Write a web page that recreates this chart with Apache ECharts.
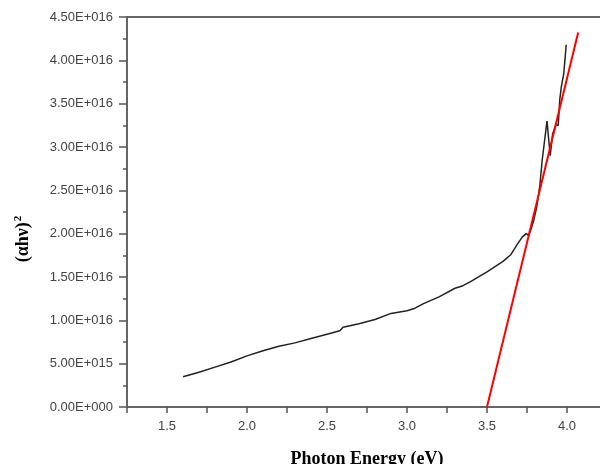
<!DOCTYPE html>
<html>
<head>
<meta charset="utf-8">
<script src="https://cdn.jsdelivr.net/npm/echarts@6/dist/echarts.min.js"></script>
<style>
  html, body { margin: 0; padding: 0; background: #fff; overflow: hidden; }
  #main { width: 600px; height: 464px; }
</style>
</head>
<body>
<div id="main"></div>
<script>
// photon energy (eV) and (αhν)^2
var energy = [1.60, 1.70, 1.80, 1.90, 2.00, 2.10, 2.20, 2.30, 2.40, 2.50, 2.58, 2.60, 2.70, 2.80, 2.90, 3.00, 3.05, 3.10, 3.20, 3.30, 3.35, 3.40, 3.50, 3.55, 3.60, 3.65, 3.69, 3.72, 3.745, 3.76, 3.775, 3.79, 3.81, 3.83, 3.845, 3.855, 3.875, 3.895, 3.91, 3.93, 3.945, 3.955, 3.965, 3.98, 3.995];
var alphaHv2 = [3.5e15, 4.0e15, 4.6e15, 5.2e15, 5.9e15, 6.5e15, 7.0e15, 7.4e15, 7.9e15, 8.4e15, 8.8e15, 9.2e15, 9.6e15, 1.01e16, 1.08e16, 1.11e16, 1.14e16, 1.19e16, 1.27e16, 1.37e16, 1.40e16, 1.45e16, 1.56e16, 1.62e16, 1.68e16, 1.76e16, 1.88e16, 1.96e16, 2.00e16, 1.98e16, 2.05e16, 2.14e16, 2.30e16, 2.55e16, 2.85e16, 3.00e16, 3.30e16, 2.90e16, 3.15e16, 3.25e16, 3.25e16, 3.55e16, 3.70e16, 3.85e16, 4.18e16];
// linear fit (Tauc extrapolation)
var fitX = [3.50, 4.07];
var fitY = [0, 4.32e16];

function sci(v) {
  if (v === 0) return '0.00E+000';
  var e = Math.floor(Math.log10(Math.abs(v)) + 1e-9);
  var m = v / Math.pow(10, e);
  var es = String(Math.abs(e));
  while (es.length < 3) es = '0' + es;
  return m.toFixed(2) + 'E' + (e < 0 ? '-' : '+') + es;
}

var myChart = echarts.init(document.getElementById('main'));
myChart.setOption({
  animation: false,
  // the frame runs off the right edge of the picture
  grid: { left: 127, right: -7, top: 17, bottom: 57, outerBoundsMode: 'none' },
  xAxis: [
    {
      type: 'value',
      min: 1.25,
      max: 4.25,
      interval: 0.25,
      name: 'Photon Energy (eV)',
      nameLocation: 'middle',
      nameGap: 43,
      nameTextStyle: { fontFamily: 'Liberation Serif', fontWeight: 'bold', fontSize: 18, color: '#000' },
      axisLine: { lineStyle: { color: '#666', width: 2 } },
      axisTick: { length: 6, lineStyle: { color: '#555', width: 1.5 } },
      axisLabel: {
        margin: 13,
        fontFamily: 'Liberation Sans',
        fontSize: 13,
        color: '#444',
        formatter: function (v) {
          return Math.abs(v * 2 - Math.round(v * 2)) < 1e-6 ? v.toFixed(1) : '';
        }
      },
      splitLine: { show: false }
    },
    {
      type: 'value',
      position: 'top',
      min: 1.25,
      max: 4.25,
      axisLine: { lineStyle: { color: '#666', width: 2 } },
      axisTick: { show: false },
      axisLabel: { show: false },
      splitLine: { show: false }
    }
  ],
  yAxis: {
    type: 'value',
    min: 0,
    max: 4.5e16,
    interval: 5e15,
    axisLine: { show: true, lineStyle: { color: '#666', width: 2 } },
    axisTick: { show: true, length: 8, lineStyle: { color: '#555', width: 1.5 } },
    minorTick: { show: true, splitNumber: 2, length: 4, lineStyle: { color: '#555', width: 1.5 } },
    axisLabel: {
      margin: 14,
      fontFamily: 'Liberation Sans',
      fontSize: 13,
      color: '#444',
      formatter: sci
    },
    splitLine: { show: false }
  },
  graphic: [{
    type: 'text',
    x: 23,
    y: 239,
    rotation: Math.PI / 2,
    style: {
      text: '(αhν){s|2}',
      rich: { s: { fontSize: 11, fontWeight: 'bold', fontFamily: 'Liberation Serif', verticalAlign: 'top', padding: [0, 0, 10, 1] } },
      fontFamily: 'Liberation Serif',
      fontWeight: 'bold',
      fontSize: 18,
      fill: '#000',
      textAlign: 'center',
      textVerticalAlign: 'middle'
    }
  }],
  series: [
    {
      name: 'data',
      type: 'line',
      data: energy.map(function (x, i) { return [x, alphaHv2[i]]; }),
      showSymbol: false,
      lineStyle: { color: '#222', width: 1.5 }
    },
    {
      name: 'fit',
      type: 'line',
      data: fitX.map(function (x, i) { return [x, fitY[i]]; }),
      showSymbol: false,
      lineStyle: { color: '#ff0000', width: 2 }
    }
  ]
});
</script>
</body>
</html>
